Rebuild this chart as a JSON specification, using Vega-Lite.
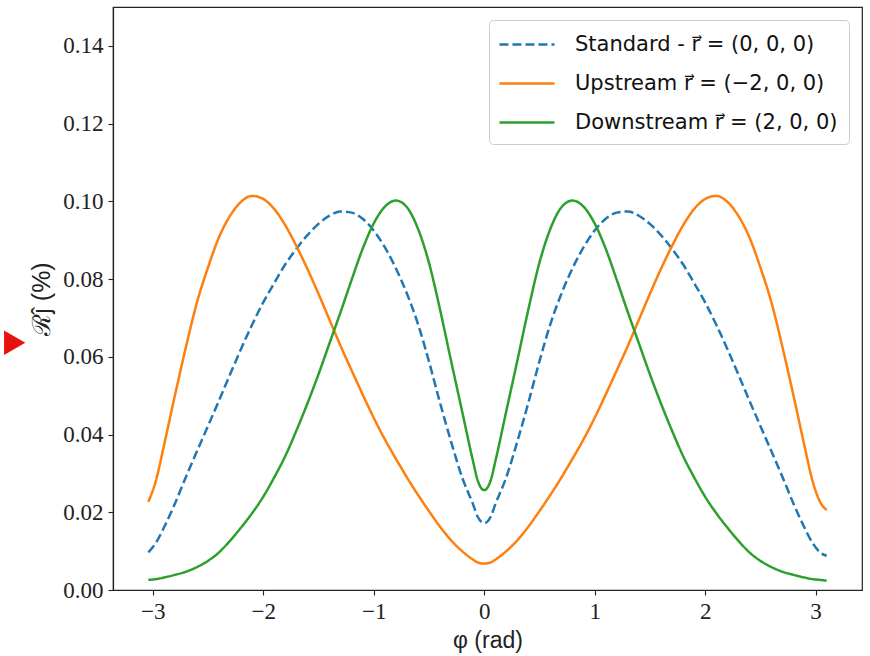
{
  "$schema": "https://vega.github.io/schema/vega-lite/v6.json",
  "width": 749,
  "height": 583,
  "autosize": {"type": "none"},
  "padding": {"left": 113, "top": 7, "right": 8, "bottom": 66},
  "background": "white",
  "config": {
    "view": {"stroke": "#222", "strokeWidth": 1.2},
    "axis": {"grid": false, "labelFont": "Liberation Serif", "labelFontSize": 23, "labelColor": "#222", "tickColor": "#222", "domainColor": "#222", "domainWidth": 1.2, "tickSize": 5, "tickWidth": 1.1, "titleFont": "Liberation Sans", "titleFontSize": 23, "titleFontWeight": "normal", "titleColor": "#222"},
    "legend": {"labelFont": "DejaVu Sans", "labelFontSize": 21, "labelColor": "#111", "symbolStrokeWidth": 2.5, "symbolType": "M-1.17,0H3.42", "symbolSize": 576, "rowPadding": 15, "labelOffset": 48, "padding": 11, "strokeColor": "#ccc", "fillColor": "white", "cornerRadius": 4, "offset": 13, "orient": "top-right", "title": null, "labelLimit": 400}
  },
  "layer": [
    {
      "data": {"values": [
        {"phi":-3.04,"series":"Standard","R":0.0097},{"phi":-2.97,"series":"Standard","R":0.0122},{"phi":-2.9,"series":"Standard","R":0.016},{"phi":-2.8,"series":"Standard","R":0.0222},{"phi":-2.7,"series":"Standard","R":0.0291},{"phi":-2.6,"series":"Standard","R":0.0357},{"phi":-2.5,"series":"Standard","R":0.0422},{"phi":-2.4,"series":"Standard","R":0.0488},{"phi":-2.3,"series":"Standard","R":0.0555},{"phi":-2.2,"series":"Standard","R":0.0621},{"phi":-2.1,"series":"Standard","R":0.0683},{"phi":-2.0,"series":"Standard","R":0.074},{"phi":-1.9,"series":"Standard","R":0.079},{"phi":-1.8,"series":"Standard","R":0.0838},{"phi":-1.7,"series":"Standard","R":0.0878},{"phi":-1.6,"series":"Standard","R":0.0913},{"phi":-1.5,"series":"Standard","R":0.0942},{"phi":-1.4,"series":"Standard","R":0.0963},{"phi":-1.3,"series":"Standard","R":0.0974},{"phi":-1.2,"series":"Standard","R":0.0971},{"phi":-1.1,"series":"Standard","R":0.0955},{"phi":-1.0,"series":"Standard","R":0.0925},{"phi":-0.9,"series":"Standard","R":0.0882},{"phi":-0.8,"series":"Standard","R":0.0828},{"phi":-0.7,"series":"Standard","R":0.0763},{"phi":-0.6,"series":"Standard","R":0.0685},{"phi":-0.5,"series":"Standard","R":0.0588},{"phi":-0.4,"series":"Standard","R":0.0482},{"phi":-0.3,"series":"Standard","R":0.0382},{"phi":-0.2,"series":"Standard","R":0.029},{"phi":-0.1,"series":"Standard","R":0.022},{"phi":-0.06,"series":"Standard","R":0.0189},{"phi":0,"series":"Standard","R":0.0172},{"phi":0.06,"series":"Standard","R":0.0189},{"phi":0.1,"series":"Standard","R":0.022},{"phi":0.2,"series":"Standard","R":0.029},{"phi":0.3,"series":"Standard","R":0.0382},{"phi":0.4,"series":"Standard","R":0.0482},{"phi":0.5,"series":"Standard","R":0.0588},{"phi":0.6,"series":"Standard","R":0.0685},{"phi":0.7,"series":"Standard","R":0.0763},{"phi":0.8,"series":"Standard","R":0.0828},{"phi":0.9,"series":"Standard","R":0.0882},{"phi":1.0,"series":"Standard","R":0.0925},{"phi":1.1,"series":"Standard","R":0.0955},{"phi":1.2,"series":"Standard","R":0.0971},{"phi":1.3,"series":"Standard","R":0.0974},{"phi":1.4,"series":"Standard","R":0.0963},{"phi":1.5,"series":"Standard","R":0.0942},{"phi":1.6,"series":"Standard","R":0.0913},{"phi":1.7,"series":"Standard","R":0.0878},{"phi":1.8,"series":"Standard","R":0.0838},{"phi":1.9,"series":"Standard","R":0.079},{"phi":2.0,"series":"Standard","R":0.074},{"phi":2.1,"series":"Standard","R":0.0683},{"phi":2.2,"series":"Standard","R":0.0621},{"phi":2.3,"series":"Standard","R":0.0555},{"phi":2.4,"series":"Standard","R":0.0488},{"phi":2.5,"series":"Standard","R":0.0422},{"phi":2.6,"series":"Standard","R":0.0357},{"phi":2.7,"series":"Standard","R":0.0291},{"phi":2.8,"series":"Standard","R":0.0222},{"phi":2.9,"series":"Standard","R":0.016},{"phi":2.97,"series":"Standard","R":0.0122},{"phi":3.04,"series":"Standard","R":0.0097},{"phi":3.1,"series":"Standard","R":0.0088},
        {"phi":-3.04,"series":"Upstream","R":0.0227},{"phi":-2.97,"series":"Upstream","R":0.0283},{"phi":-2.9,"series":"Upstream","R":0.037},{"phi":-2.8,"series":"Upstream","R":0.05},{"phi":-2.7,"series":"Upstream","R":0.0625},{"phi":-2.6,"series":"Upstream","R":0.074},{"phi":-2.5,"series":"Upstream","R":0.083},{"phi":-2.4,"series":"Upstream","R":0.0908},{"phi":-2.3,"series":"Upstream","R":0.0963},{"phi":-2.2,"series":"Upstream","R":0.0999},{"phi":-2.1,"series":"Upstream","R":0.1014},{"phi":-2.0,"series":"Upstream","R":0.1006},{"phi":-1.9,"series":"Upstream","R":0.098},{"phi":-1.8,"series":"Upstream","R":0.0938},{"phi":-1.7,"series":"Upstream","R":0.0885},{"phi":-1.6,"series":"Upstream","R":0.0826},{"phi":-1.5,"series":"Upstream","R":0.0762},{"phi":-1.4,"series":"Upstream","R":0.0695},{"phi":-1.3,"series":"Upstream","R":0.0628},{"phi":-1.2,"series":"Upstream","R":0.0565},{"phi":-1.1,"series":"Upstream","R":0.0503},{"phi":-1.0,"series":"Upstream","R":0.0443},{"phi":-0.9,"series":"Upstream","R":0.0388},{"phi":-0.8,"series":"Upstream","R":0.0338},{"phi":-0.7,"series":"Upstream","R":0.029},{"phi":-0.6,"series":"Upstream","R":0.0245},{"phi":-0.5,"series":"Upstream","R":0.0203},{"phi":-0.4,"series":"Upstream","R":0.0163},{"phi":-0.3,"series":"Upstream","R":0.0128},{"phi":-0.2,"series":"Upstream","R":0.01},{"phi":-0.1,"series":"Upstream","R":0.0078},{"phi":-0.06,"series":"Upstream","R":0.0071},{"phi":0,"series":"Upstream","R":0.0068},{"phi":0.06,"series":"Upstream","R":0.0071},{"phi":0.1,"series":"Upstream","R":0.0078},{"phi":0.2,"series":"Upstream","R":0.01},{"phi":0.3,"series":"Upstream","R":0.0128},{"phi":0.4,"series":"Upstream","R":0.0163},{"phi":0.5,"series":"Upstream","R":0.0203},{"phi":0.6,"series":"Upstream","R":0.0245},{"phi":0.7,"series":"Upstream","R":0.029},{"phi":0.8,"series":"Upstream","R":0.0338},{"phi":0.9,"series":"Upstream","R":0.0388},{"phi":1.0,"series":"Upstream","R":0.0443},{"phi":1.1,"series":"Upstream","R":0.0503},{"phi":1.2,"series":"Upstream","R":0.0565},{"phi":1.3,"series":"Upstream","R":0.0628},{"phi":1.4,"series":"Upstream","R":0.0695},{"phi":1.5,"series":"Upstream","R":0.0762},{"phi":1.6,"series":"Upstream","R":0.0826},{"phi":1.7,"series":"Upstream","R":0.0885},{"phi":1.8,"series":"Upstream","R":0.0938},{"phi":1.9,"series":"Upstream","R":0.098},{"phi":2.0,"series":"Upstream","R":0.1006},{"phi":2.1,"series":"Upstream","R":0.1014},{"phi":2.2,"series":"Upstream","R":0.0999},{"phi":2.3,"series":"Upstream","R":0.0963},{"phi":2.4,"series":"Upstream","R":0.0908},{"phi":2.5,"series":"Upstream","R":0.083},{"phi":2.6,"series":"Upstream","R":0.074},{"phi":2.7,"series":"Upstream","R":0.0625},{"phi":2.8,"series":"Upstream","R":0.05},{"phi":2.9,"series":"Upstream","R":0.037},{"phi":2.97,"series":"Upstream","R":0.0283},{"phi":3.04,"series":"Upstream","R":0.0227},{"phi":3.1,"series":"Upstream","R":0.0206},
        {"phi":-3.04,"series":"Downstream","R":0.0026},{"phi":-2.97,"series":"Downstream","R":0.0028},{"phi":-2.9,"series":"Downstream","R":0.0032},{"phi":-2.8,"series":"Downstream","R":0.0039},{"phi":-2.7,"series":"Downstream","R":0.0047},{"phi":-2.6,"series":"Downstream","R":0.0059},{"phi":-2.5,"series":"Downstream","R":0.0075},{"phi":-2.4,"series":"Downstream","R":0.0097},{"phi":-2.3,"series":"Downstream","R":0.0127},{"phi":-2.2,"series":"Downstream","R":0.0161},{"phi":-2.1,"series":"Downstream","R":0.0198},{"phi":-2.0,"series":"Downstream","R":0.024},{"phi":-1.9,"series":"Downstream","R":0.029},{"phi":-1.8,"series":"Downstream","R":0.0345},{"phi":-1.7,"series":"Downstream","R":0.041},{"phi":-1.6,"series":"Downstream","R":0.048},{"phi":-1.5,"series":"Downstream","R":0.0555},{"phi":-1.4,"series":"Downstream","R":0.0635},{"phi":-1.3,"series":"Downstream","R":0.0715},{"phi":-1.2,"series":"Downstream","R":0.0798},{"phi":-1.1,"series":"Downstream","R":0.0878},{"phi":-1.0,"series":"Downstream","R":0.0943},{"phi":-0.9,"series":"Downstream","R":0.0986},{"phi":-0.8,"series":"Downstream","R":0.1002},{"phi":-0.7,"series":"Downstream","R":0.0985},{"phi":-0.6,"series":"Downstream","R":0.093},{"phi":-0.5,"series":"Downstream","R":0.0842},{"phi":-0.4,"series":"Downstream","R":0.0722},{"phi":-0.3,"series":"Downstream","R":0.059},{"phi":-0.2,"series":"Downstream","R":0.046},{"phi":-0.1,"series":"Downstream","R":0.033},{"phi":-0.06,"series":"Downstream","R":0.0283},{"phi":0,"series":"Downstream","R":0.0257},{"phi":0.06,"series":"Downstream","R":0.0283},{"phi":0.1,"series":"Downstream","R":0.033},{"phi":0.2,"series":"Downstream","R":0.046},{"phi":0.3,"series":"Downstream","R":0.059},{"phi":0.4,"series":"Downstream","R":0.0722},{"phi":0.5,"series":"Downstream","R":0.0842},{"phi":0.6,"series":"Downstream","R":0.093},{"phi":0.7,"series":"Downstream","R":0.0985},{"phi":0.8,"series":"Downstream","R":0.1002},{"phi":0.9,"series":"Downstream","R":0.0986},{"phi":1.0,"series":"Downstream","R":0.0943},{"phi":1.1,"series":"Downstream","R":0.0878},{"phi":1.2,"series":"Downstream","R":0.0798},{"phi":1.3,"series":"Downstream","R":0.0715},{"phi":1.4,"series":"Downstream","R":0.0635},{"phi":1.5,"series":"Downstream","R":0.0555},{"phi":1.6,"series":"Downstream","R":0.048},{"phi":1.7,"series":"Downstream","R":0.041},{"phi":1.8,"series":"Downstream","R":0.0345},{"phi":1.9,"series":"Downstream","R":0.029},{"phi":2.0,"series":"Downstream","R":0.024},{"phi":2.1,"series":"Downstream","R":0.0198},{"phi":2.2,"series":"Downstream","R":0.0161},{"phi":2.3,"series":"Downstream","R":0.0127},{"phi":2.4,"series":"Downstream","R":0.0097},{"phi":2.5,"series":"Downstream","R":0.0075},{"phi":2.6,"series":"Downstream","R":0.0059},{"phi":2.7,"series":"Downstream","R":0.0047},{"phi":2.8,"series":"Downstream","R":0.0039},{"phi":2.9,"series":"Downstream","R":0.0032},{"phi":2.97,"series":"Downstream","R":0.0028},{"phi":3.04,"series":"Downstream","R":0.0026},{"phi":3.1,"series":"Downstream","R":0.0024}
      ]},
      "mark": {"type": "line", "strokeWidth": 2.5, "interpolate": "monotone"},
      "encoding": {
        "x": {"field": "phi", "type": "quantitative", "scale": {"domain": [-3.36, 3.42], "nice": false, "zero": false},
              "axis": {"values": [-3, -2, -1, 0, 1, 2, 3], "format": "d", "title": "φ (rad)", "labelPadding": 5, "titlePadding": 6}},
        "y": {"field": "R", "type": "quantitative", "scale": {"domain": [0, 0.15], "nice": false},
              "axis": {"values": [0, 0.02, 0.04, 0.06, 0.08, 0.1, 0.12, 0.14], "format": ".2f", "title": "ℛĵ (%)", "titleFontSize": 25, "labelPadding": 5, "titlePadding": 8}},
        "color": {"field": "series", "type": "nominal", "sort": ["Standard", "Upstream", "Downstream"],
                  "scale": {"domain": ["Standard", "Upstream", "Downstream"], "range": ["#1f77b4", "#ff7f0e", "#2ca02c"]},
                  "legend": {"labelExpr": "datum.label == 'Standard' ? 'Standard - r⃗ = (0, 0, 0)' : datum.label == 'Upstream' ? 'Upstream r⃗ = (−2, 0, 0)' : 'Downstream r⃗ = (2, 0, 0)'"}},
        "strokeDash": {"field": "series", "type": "nominal", "sort": ["Standard", "Upstream", "Downstream"],
                  "scale": {"domain": ["Standard", "Upstream", "Downstream"], "range": [[9, 4], [1, 0], [1, 0]]},
                  "legend": {"labelExpr": "datum.label == 'Standard' ? 'Standard - r⃗ = (0, 0, 0)' : datum.label == 'Upstream' ? 'Upstream r⃗ = (−2, 0, 0)' : 'Downstream r⃗ = (2, 0, 0)'"}}
      }
    },
    {
      "data": {"values": [{"phi": -4.25, "R": 0.0636}]},
      "mark": {"type": "point", "shape": "triangle-right", "filled": true, "color": "#e8120c", "size": 600, "opacity": 1, "clip": false},
      "encoding": {
        "x": {"field": "phi", "type": "quantitative"},
        "y": {"field": "R", "type": "quantitative"}
      }
    }
  ]
}
